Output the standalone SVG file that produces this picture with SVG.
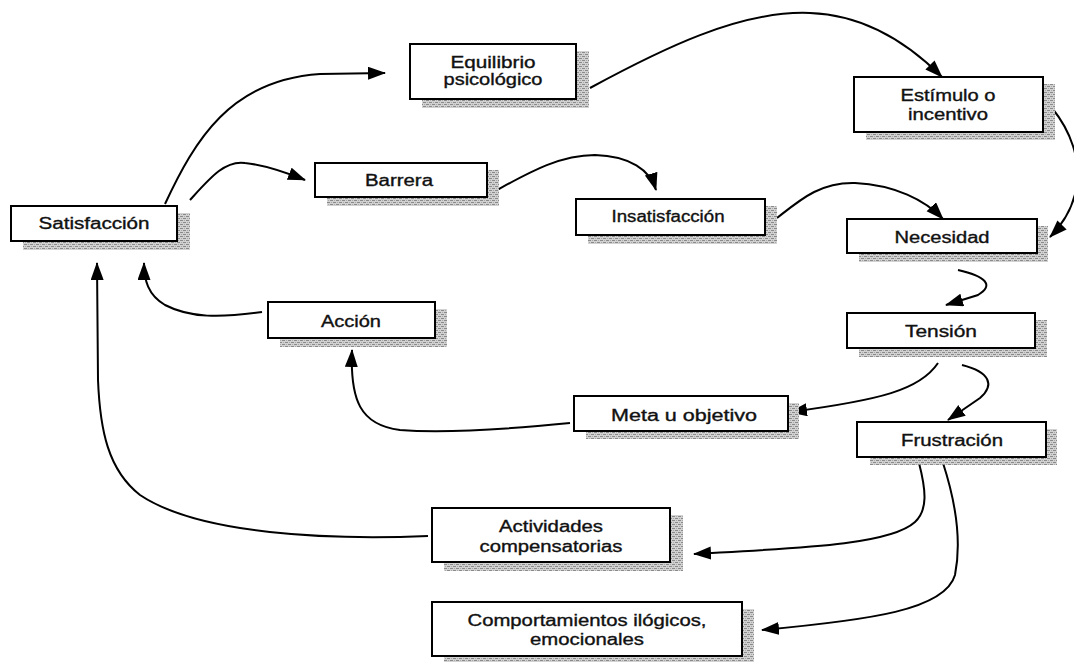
<svg xmlns="http://www.w3.org/2000/svg" width="1074" height="662" viewBox="0 0 1074 662">
<defs>
<pattern id="hatch" width="6" height="4" patternUnits="userSpaceOnUse">
<rect width="6" height="4" fill="#d2d2d2"/>
<path d="M0,0h3v1h-3z M3,2h3v1h-3z" fill="#8a8a8a"/>
<rect x="1" y="2" width="1" height="1" fill="#a8a8a8"/>
<rect x="4" y="0" width="1" height="1" fill="#a8a8a8"/>
</pattern>
<marker id="arr" markerUnits="userSpaceOnUse" markerWidth="20" markerHeight="14" refX="17" refY="6.5" orient="auto">
<path d="M0,0 L18,6.5 L0,13 Z" fill="#000"/>
</marker>
<style>
.box{fill:#fff;stroke:#000;stroke-width:2}
.sh{fill:url(#hatch)}
.t{font-family:"Liberation Sans",Arial,sans-serif;font-size:16px;fill:#111;stroke:#111;stroke-width:0.35;text-anchor:middle}
.c{fill:none;stroke:#000;stroke-width:2;marker-end:url(#arr)}
</style>
</defs>
<rect width="1074" height="662" fill="#fff"/>

<g id="connectors">
<path class="c" d="M165,204 C195,140 230,80 320,74 L385,73"/>
<path class="c" d="M190,200 C210,178 225,160 245,163 C265,165 285,172 305,180"/>
<path class="c" d="M590,88 C660,50 740,10 810,13 C870,15 915,50 942,77"/>
<path class="c" d="M1052,108 C1070,130 1082,160 1076,190 C1072,210 1062,225 1050,237"/>
<path class="c" d="M497,190 C530,172 560,155 595,155 C630,156 650,170 656,190"/>
<path class="c" d="M777,218 C800,200 820,182 855,183 C895,185 925,200 943,219"/>
<path class="c" d="M958,270 C985,276 995,285 978,295 L946,305"/>
<path class="c" d="M938,363 C920,390 880,400 790,412"/>
<path class="c" d="M962,365 C990,372 995,385 980,398 L948,420"/>
<path class="c" d="M570,423 C500,430 440,433 400,430 C360,425 350,400 352,350"/>
<path class="c" d="M262,312 C220,318 190,318 165,305 C148,295 144,280 144,263"/>
<path class="c" d="M428,536 C330,540 200,535 140,495 C108,470 100,430 98,380 L97,263"/>
<path class="c" d="M919,463 C926,490 928,510 915,522 C890,545 800,548 694,554"/>
<path class="c" d="M943,463 C955,500 962,540 955,575 C945,610 870,620 762,630"/>
</g>

<g id="satisfaccion">
<path class="sh" d="M177,213 H190 V250 H23 V241 H177 Z"/>
<rect class="box" x="11" y="206" width="166" height="35"/>
<text class="t" x="94" y="229" textLength="111" lengthAdjust="spacingAndGlyphs">Satisfacción</text>
</g>
<g id="equilibrio">
<path class="sh" d="M576,51 H589 V108 H422 V99 H576 Z"/>
<rect class="box" x="410" y="44" width="166" height="55"/>
<text class="t" x="493" y="68" textLength="85" lengthAdjust="spacingAndGlyphs">Equilibrio</text>
<text class="t" x="493" y="85" textLength="99" lengthAdjust="spacingAndGlyphs">psicológico</text>
</g>
<g id="estimulo">
<path class="sh" d="M1043,84 H1055 V140 H866 V132 H1043 Z"/>
<rect class="box" x="854" y="77" width="189" height="55"/>
<text class="t" x="948" y="101" textLength="95" lengthAdjust="spacingAndGlyphs">Estímulo o</text>
<text class="t" x="948" y="120" textLength="80" lengthAdjust="spacingAndGlyphs">incentivo</text>
</g>
<g id="barrera">
<path class="sh" d="M487,170 H499 V206 H327 V197 H487 Z"/>
<rect class="box" x="315" y="163" width="172" height="34"/>
<text class="t" x="399" y="186" textLength="68" lengthAdjust="spacingAndGlyphs">Barrera</text>
</g>
<g id="insatisfaccion">
<path class="sh" d="M765,206 H777 V244 H588 V235 H765 Z"/>
<rect class="box" x="576" y="199" width="189" height="36"/>
<text class="t" x="668" y="222" textLength="113" lengthAdjust="spacingAndGlyphs">Insatisfacción</text>
</g>
<g id="necesidad">
<path class="sh" d="M1037,226 H1048 V262 H859 V253 H1037 Z"/>
<rect class="box" x="847" y="219" width="190" height="34"/>
<text class="t" x="942" y="243" textLength="95" lengthAdjust="spacingAndGlyphs">Necesidad</text>
</g>
<g id="accion">
<path class="sh" d="M435,309 H447 V347 H280 V338 H435 Z"/>
<rect class="box" x="268" y="302" width="167" height="36"/>
<text class="t" x="351" y="327" textLength="60" lengthAdjust="spacingAndGlyphs">Acción</text>
</g>
<g id="tension">
<path class="sh" d="M1035,320 H1047 V357 H859 V348 H1035 Z"/>
<rect class="box" x="847" y="313" width="188" height="35"/>
<text class="t" x="941" y="337" textLength="72" lengthAdjust="spacingAndGlyphs">Tensión</text>
</g>
<g id="meta">
<path class="sh" d="M788,403 H799 V439 H586 V431 H788 Z"/>
<rect class="box" x="574" y="396" width="214" height="35"/>
<text class="t" x="684" y="421" textLength="146" lengthAdjust="spacingAndGlyphs">Meta u objetivo</text>
</g>
<g id="frustracion">
<path class="sh" d="M1046,429 H1057 V465 H870 V457 H1046 Z"/>
<rect class="box" x="857" y="422" width="189" height="35"/>
<text class="t" x="952" y="446" textLength="102" lengthAdjust="spacingAndGlyphs">Frustración</text>
</g>
<g id="actividades">
<path class="sh" d="M670,515 H683 V571 H444 V562 H670 Z"/>
<rect class="box" x="432" y="508" width="238" height="54"/>
<text class="t" x="551" y="532" textLength="104" lengthAdjust="spacingAndGlyphs">Actividades</text>
<text class="t" x="551" y="552" textLength="143" lengthAdjust="spacingAndGlyphs">compensatorias</text>
</g>
<g id="comportamientos">
<path class="sh" d="M742,609 H754 V662 H444 V656 H742 Z"/>
<rect class="box" x="432" y="602" width="310" height="54"/>
<text class="t" x="587" y="626" textLength="239" lengthAdjust="spacingAndGlyphs">Comportamientos ilógicos,</text>
<text class="t" x="587" y="645" textLength="114" lengthAdjust="spacingAndGlyphs">emocionales</text>
</g>
</svg>
